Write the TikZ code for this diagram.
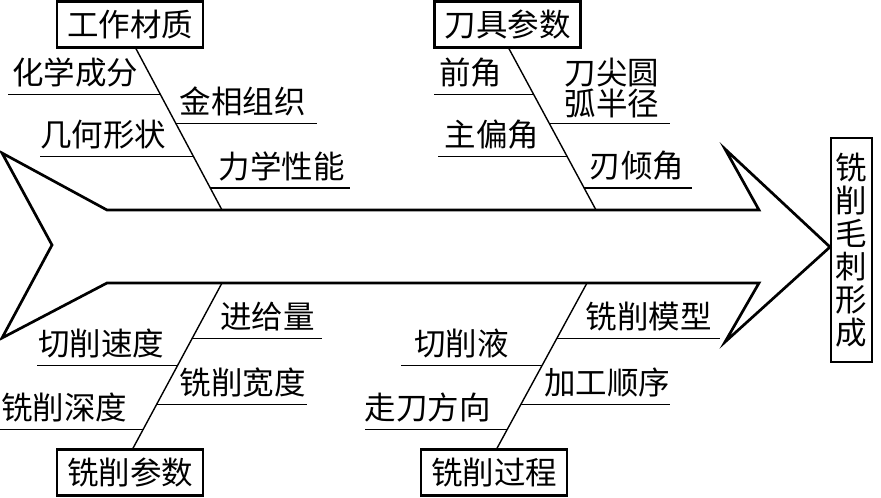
\documentclass[tikz,border=0pt]{standalone}
\usepackage{fontspec}
\newfontfamily\cjk{Noto Sans CJK SC}
\usetikzlibrary{calc}
\tikzset{
  ycmc/.style={x=1pt, y=-1pt, font=\cjk\fontsize{31.5}{33}\selectfont},
  y box/.style={draw, line width=2.5pt, minimum width=146pt, minimum height=46pt, inner sep=0pt},
  y end/.style={draw, line width=2.5pt, minimum width=41pt, minimum height=224pt, inner sep=0pt, align=center},
  y body/.style={line width=2.7pt, line join=miter},
  y bone/.style={line width=1.4pt},
  y lab/.style={inner sep=0pt, yshift=22pt, align=center},
}
\begin{document}
\begin{tikzpicture}[ycmc]
\useasboundingbox (0,0) rectangle (881,498);
% ---- fish body ----
\draw[y body] (2,153) -- (107,210) -- (759,210) -- (725,149) -- (830,247) -- (725,342)
  -- (759,283) -- (107,283) -- (2,338) -- (52,245) -- cycle;
\node[y end] (out) at (851.5,250) {铣\\削\\毛\\刺\\形\\成};
% ---- 工作材质 ----
\node[y box] (wm) at (130,24.5) {工作材质};
\coordinate (wmt) at ([xshift=6pt]wm.south);  \coordinate (wmj) at (222,210);
\draw[y bone] (wmt) -- (wmj);
\draw[y bone] ($(wmt)!0.284!(wmj)$) -- ++(-152,0) node[y lab, pos=0.56] (wm1) {化学成分};
\draw[y bone] ($(wmt)!0.463!(wmj)$) -- ++(141,0)  node[y lab, pos=0.475] (wm2) {金相组织};
\draw[y bone] ($(wmt)!0.667!(wmj)$) -- ++(-153,0) node[y lab, pos=0.59] (wm3) {几何形状};
\draw[y bone] ($(wmt)!0.864!(wmj)$) -- ++(140,0)  node[y lab, pos=0.51] (wm4) {力学性能};
% ---- 刀具参数 ----
\node[y box] (dj) at (507.5,24.5) {刀具参数};
\coordinate (djt) at ([xshift=1.5pt]dj.south);  \coordinate (djj) at (596,210);
\draw[y bone] (djt) -- (djj);
\draw[y bone] ($(djt)!0.284!(djj)$) -- ++(-100,0) node[y lab, pos=0.63] (dj1) {前角};
\draw[y bone] ($(djt)!0.463!(djj)$) -- ++(121,0)  node[y lab, pos=0.52, yshift=13.5pt] (dj2) {刀尖圆\\[-2pt]弧半径};
\draw[y bone] ($(djt)!0.667!(djj)$) -- ++(-129,0) node[y lab, pos=0.58] (dj3) {主偏角};
\draw[y bone] ($(djt)!0.864!(djj)$) -- ++(108,0)  node[y lab, pos=0.49] (dj4) {刃倾角};
% ---- 铣削参数 ----
\node[y box] (cs) at (130,472.5) {铣削参数};
\coordinate (cst) at ([xshift=3pt]cs.north);  \coordinate (csj) at (222,283);
\draw[y bone] (csj) -- (cst);
\draw[y bone] ($(csj)!0.337!(cst)$) -- ++(130,0)  node[y lab, pos=0.58] (cs1) {进给量};
\draw[y bone] ($(csj)!0.5!(cst)$)   -- ++(-141,0) node[y lab, pos=0.54] (cs2) {切削速度};
\draw[y bone] ($(csj)!0.735!(cst)$) -- ++(150,0)  node[y lab, pos=0.575] (cs3) {铣削宽度};
\draw[y bone] ($(csj)!0.886!(cst)$) -- ++(-143,0) node[y lab, pos=0.55] (cs4) {铣削深度};
% ---- 铣削过程 ----
\node[y box] (gc) at (494,472.5) {铣削过程};
\coordinate (gct) at ([xshift=3pt]gc.north);  \coordinate (gcj) at (587,283);
\draw[y bone] (gcj) -- (gct);
\draw[y bone] ($(gcj)!0.337!(gct)$) -- ++(163,0)  node[y lab, pos=0.565] (gc1) {铣削模型};
\draw[y bone] ($(gcj)!0.5!(gct)$)   -- ++(-141,0) node[y lab, pos=0.57] (gc2) {切削液};
\draw[y bone] ($(gcj)!0.735!(gct)$) -- ++(149,0)  node[y lab, pos=0.58] (gc3) {加工顺序};
\draw[y bone] ($(gcj)!0.886!(gct)$) -- ++(-142,0) node[y lab, pos=0.56] (gc4) {走刀方向};
\end{tikzpicture}
\end{document}
